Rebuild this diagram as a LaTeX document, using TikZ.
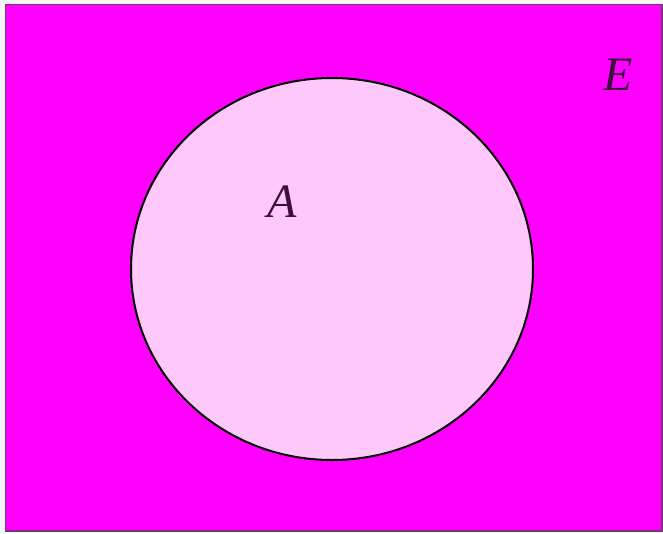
\documentclass[tikz,border=0pt]{standalone}
\usepackage{fontspec}
\setmainfont{Liberation Serif}
\usepackage{tikz}
\usepackage{xcolor}
\definecolor{setmag}{RGB}{255,0,255}
\definecolor{setpink}{RGB}{255,200,250}
\definecolor{labelpurple}{RGB}{60,15,60}
\definecolor{framegray}{RGB}{110,60,110}

\begin{document}
\begin{tikzpicture}[x=1pt,y=-1pt,
    setlabel/.style={labelpurple,font=\fontsize{48}{48}\selectfont\itshape}]
  \useasboundingbox (0,0) rectangle (663,533);
  \fill[gray!8] (0,0) rectangle (663,533);
  % universe
  \filldraw[fill=setmag,draw=framegray,line width=1.5pt] (5.5,4.5) rectangle (662,531);
  % set A
  \filldraw[fill=setpink,draw=black,line width=2pt] (332,269) ellipse [x radius=201,y radius=191];
  \node[setlabel] (labE) at (618,75) {E};
  \node[setlabel] (labA) at (282,202) {A};
\end{tikzpicture}
\end{document}
